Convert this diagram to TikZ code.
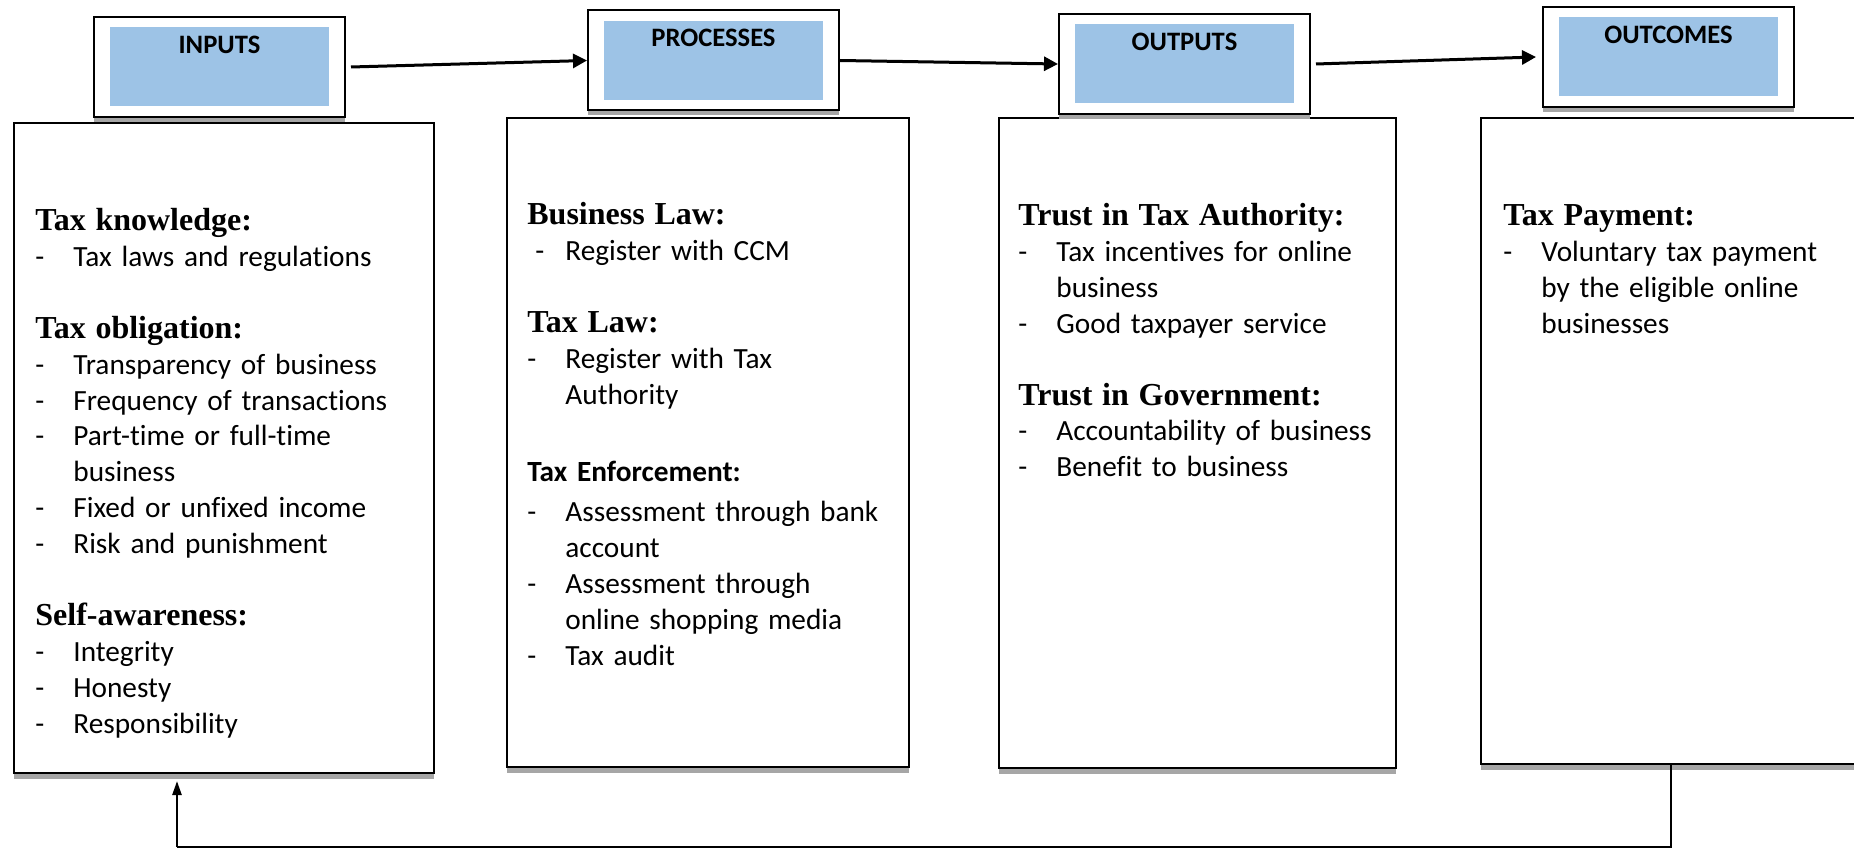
\documentclass[tikz,border=0pt]{standalone}
\usepackage{fontspec}
\setmainfont{Carlito}[Ligatures=NoCommon]
\newfontfamily\timesfont{Liberation Serif}
\usetikzlibrary{positioning,shadows,arrows.meta,calc}

\definecolor{headblue}{HTML}{9DC3E6}
\definecolor{shadowgray}{HTML}{A6A6A6}

\tikzstyle{headbox} = [rectangle, draw=black, line width=1pt, fill=white, minimum width=125.5pt, minimum height=50pt, inner sep=0pt, drop shadow={shadow xshift=0pt, shadow yshift=-2.5pt, fill=shadowgray, opacity=1}]
\tikzstyle{headfill} = [rectangle, fill=headblue, minimum width=109.5pt, minimum height=39.5pt, inner sep=0pt, text height=13pt, text depth=26.5pt, font=\fontsize{13.3}{16}\selectfont\bfseries]
\tikzstyle{listbox} = [rectangle, draw=black, line width=1pt, fill=white, anchor=north west, inner sep=0pt, drop shadow={shadow xshift=0pt, shadow yshift=-3pt, fill=shadowgray, opacity=1}]
\tikzstyle{listtext} = [anchor=north west, inner sep=0pt, align=left, font=\fontsize{14.65}{17.95}\selectfont]
\tikzstyle{arrow} = [-{Triangle[length=7pt,width=7pt]}, line width=1.5pt]
\tikzstyle{backarrow} = [-{Triangle[length=7pt,width=4.5pt]}, line width=1.2pt]

\newcommand{\listhead}[1]{\noindent\strut{\timesfont\bfseries\fontsize{16}{17.95}\selectfont #1}\par}
\newcommand{\dashitem}[2][0pt]{\noindent\hangindent=19pt\hangafter=1\makebox[19pt][l]{\hspace{#1}-}#2\par}
\newcommand{\listgap}[1][17.95pt]{\vspace{#1}}

\begin{document}
\begin{tikzpicture}[x=0.5pt, y=-0.5pt]
	\useasboundingbox (0,0) rectangle (1854,850);
	\clip (0,0) rectangle (1854,850);

	% list boxes
	\node (inputslist) [listbox, minimum width=210pt, minimum height=325pt] at (13,122) {};
	\node (processeslist) [listbox, minimum width=201pt, minimum height=324.5pt] at (506,117) {};
	\node (outputslist) [listbox, minimum width=198.5pt, minimum height=325pt] at (998,117) {};
	\node (outcomeslist) [listbox, minimum width=205pt, minimum height=323pt] at (1480,117) {};

	\node (inputstext) [listtext, text width=190pt] at (35,205) {%
		\listhead{Tax knowledge:}
		\dashitem{Tax laws and regulations}
		\listgap
		\listhead{Tax obligation:}
		\dashitem{Transparency of business}
		\dashitem{Frequency of transactions}
		\dashitem{Part-time or full-time\newline business}
		\dashitem{Fixed or unfixed income}
		\dashitem{Risk and punishment}
		\listgap
		\listhead{Self-awareness:}
		\dashitem{Integrity}
		\dashitem{Honesty}
		\dashitem{Responsibility}};
	\node (processestext) [listtext, text width=180pt] at (527,199) {%
		\listhead{Business Law:}
		\dashitem[4pt]{Register with CCM}
		\listgap
		\listhead{Tax Law:}
		\dashitem{Register with Tax\newline Authority}
		\listgap[21pt]
		\noindent{\bfseries Tax Enforcement:}\par
		\listgap[2pt]
		\dashitem{Assessment through bank\newline account}
		\dashitem{Assessment through\newline online shopping media}
		\dashitem{Tax audit}};
	\node (outputstext) [listtext, text width=180pt] at (1018,200) {%
		\listhead{Trust in Tax Authority:}
		\dashitem{Tax incentives for online\newline business}
		\dashitem{Good taxpayer service}
		\listgap
		\listhead{Trust in Government:}
		\dashitem{Accountability of business}
		\dashitem{Benefit to business}};
	\node (outcomestext) [listtext, text width=170pt] at (1503,200) {%
		\listhead{Tax Payment:}
		\dashitem{Voluntary tax payment\newline by the eligible online\newline businesses}};

	% header boxes
	\node (inputs) [headbox] at (219.5,67) {};
	\node (processes) [headbox, right=120.5pt of inputs, yshift=3.25pt] {};
	\node (outputs) [headbox, right=109pt of processes, yshift=-1.75pt] {};
	\node (outcomes) [headbox, right=115.5pt of outputs, yshift=3.5pt] {};
	\node (inputsfill) [headfill] at (inputs) {INPUTS};
	\node (processesfill) [headfill] at (processes) {PROCESSES};
	\node (outputsfill) [headfill] at (outputs) {OUTPUTS};
	\node (outcomesfill) [headfill] at (outcomes) {OUTCOMES};

	\draw [arrow] ([xshift=2.5pt]inputs.east) -- (processes.west);
	\draw [arrow] (processes.east) -- (outputs.west);
	\draw [arrow] ([xshift=2.5pt]outputs.east) -- ([xshift=-3pt]outcomes.west);

	% feedback line
	\coordinate (backR) at (1671,847);
	\coordinate (backL) at (177,847);
	\draw [line width=0.7pt] (backR |- outcomeslist.south) -- (backR) -- (backL);
	\draw [backarrow] (backL) -- ($(backL |- inputslist.south)+(0,7)$);
\end{tikzpicture}
\end{document}
